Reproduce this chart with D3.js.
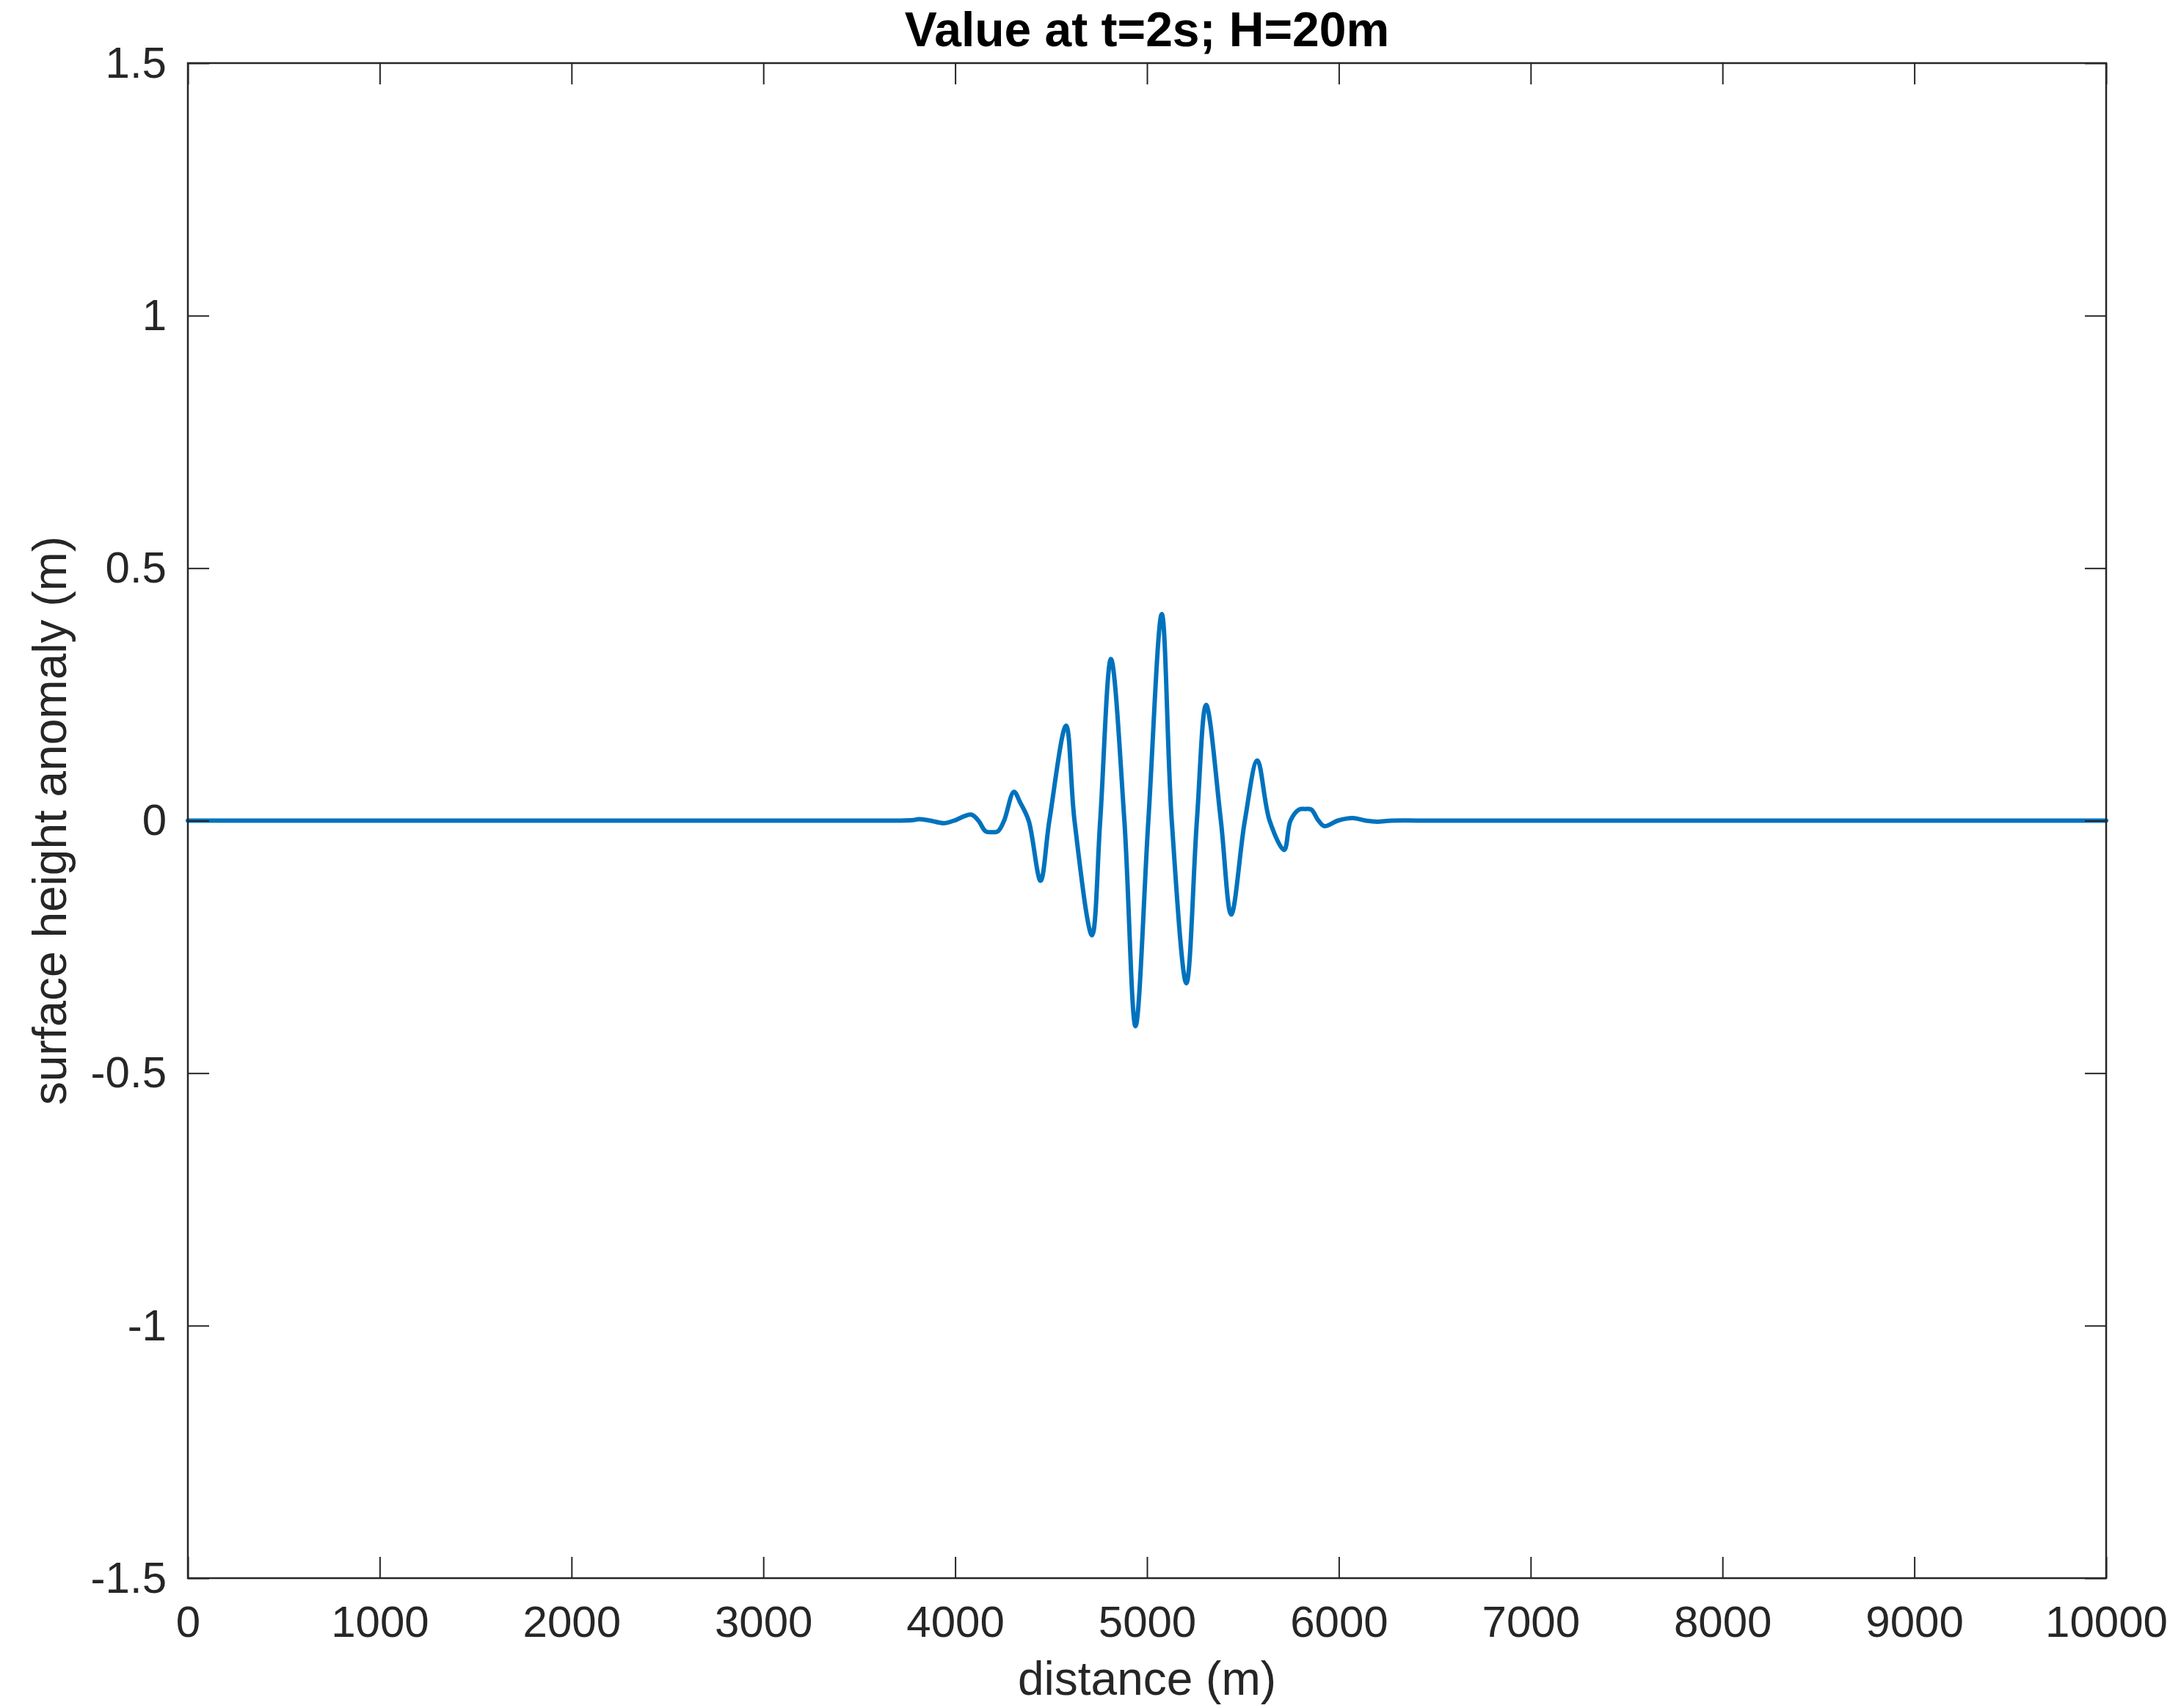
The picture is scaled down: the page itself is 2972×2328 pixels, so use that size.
<!DOCTYPE html>
<html>
<head>
<meta charset="utf-8">
<script src="https://cdn.jsdelivr.net/npm/d3@7"></script>
<style>
  html, body { margin: 0; padding: 0; background: #ffffff; }
  svg { display: block; }
  text { font-family: "Liberation Sans", Arial, Helvetica, sans-serif; }
</style>
</head>
<body>
<svg id="chart" width="2972" height="2328"></svg>
<script>
// Surface height anomaly along the channel at t = 2 s (H = 20 m)
const distance = [
  0, 1000, 2000, 3000, 3500, 3700, 3780, 3810, 3870, 3943, 3994, 4083, 4121,
  4158, 4190, 4223, 4255, 4306, 4340, 4383, 4445, 4491, 4578, 4622, 4713,
  4756, 4812, 4882, 4940, 5007, 5077, 5129, 5205, 5260, 5308, 5385, 5439,
  5510, 5575, 5639, 5715, 5748, 5793, 5825, 5856, 5894, 5925, 5995, 6072,
  6140, 6200, 6278, 6500, 7000, 8000, 9000, 10000
];
const height = [
  0, 0, 0, 0, 0, 0, 0.001, 0.003, 0.0, -0.005, 0, 0.012, 0,
  -0.021, -0.023, -0.021, 0, 0.057, 0.035, 0, -0.119, 0, 0.188, 0, -0.227,
  0, 0.320, 0, -0.407, 0, 0.409, 0, -0.322, 0, 0.229, 0, -0.186,
  0, 0.119, 0, -0.058, 0, 0.022, 0.023, 0.022, 0, -0.011, 0, 0.005,
  0, -0.002, 0, 0, 0, 0, 0, 0
];

const xTicks = [0, 1000, 2000, 3000, 4000, 5000, 6000, 7000, 8000, 9000, 10000];
const yTicks = [-1.5, -1, -0.5, 0, 0.5, 1, 1.5];
const yTickLabels = ["-1.5", "-1", "-0.5", "0", "0.5", "1", "1.5"];

const titleText = "Value at t=2s; H=20m";
const xLabelText = "distance (m)";
const yLabelText = "surface height anomaly (m)";

// Layout of the axes box
const plotLeft = 256, plotRight = 2870, plotTop = 86, plotBottom = 2151;
const axisColor = "#262626";
const tickLen = 29;

const svg = d3.select("#chart");
svg.append("rect").attr("width", 2972).attr("height", 2328).attr("fill", "#ffffff");

const x = d3.scaleLinear().domain([0, 10000]).range([plotLeft, plotRight]);
const y = d3.scaleLinear().domain([-1.5, 1.5]).range([plotBottom, plotTop]);

// Data line (drawn first so the axes box sits on top)
const pts = distance.map((d, i) => [d, height[i]]);
const line = d3.line()
  .x(d => x(d[0]))
  .y(d => y(d[1]))
  .curve(d3.curveCatmullRom.alpha(0.5));

svg.append("path")
  .datum(pts)
  .attr("d", line)
  .attr("fill", "none")
  .attr("stroke", "#0072BD")
  .attr("stroke-width", 6)
  .attr("stroke-linejoin", "round")
  .attr("stroke-linecap", "round");

function styleAxis(g) {
  g.select(".domain").remove();
  g.selectAll(".tick line").attr("stroke", axisColor).attr("stroke-width", 2);
  g.selectAll(".tick text")
    .attr("fill", axisColor)
    .style("font-size", "60px")
    .style("font-family", '"Liberation Sans", Arial, Helvetica, sans-serif');
}

// Bottom axis with labels, ticks pointing inward
svg.append("g")
  .attr("transform", `translate(0,${plotBottom})`)
  .call(d3.axisBottom(x).tickValues(xTicks).tickFormat(d3.format("d"))
    .tickSizeInner(-tickLen).tickSizeOuter(0).tickPadding(37))
  .call(styleAxis);

// Left axis with labels
svg.append("g")
  .attr("transform", `translate(${plotLeft},0)`)
  .call(d3.axisLeft(y).tickValues(yTicks)
    .tickFormat((d, i) => yTickLabels[i])
    .tickSizeInner(-tickLen).tickSizeOuter(0).tickPadding(29))
  .call(styleAxis);

// Mirrored ticks on top and right
svg.append("g")
  .attr("transform", `translate(0,${plotTop})`)
  .call(d3.axisTop(x).tickValues(xTicks).tickFormat("")
    .tickSizeInner(-tickLen).tickSizeOuter(0))
  .call(styleAxis);

svg.append("g")
  .attr("transform", `translate(${plotRight},0)`)
  .call(d3.axisRight(y).tickValues(yTicks).tickFormat("")
    .tickSizeInner(-tickLen).tickSizeOuter(0))
  .call(styleAxis);

// Axes box
svg.append("rect")
  .attr("x", plotLeft).attr("y", plotTop)
  .attr("width", plotRight - plotLeft).attr("height", plotBottom - plotTop)
  .attr("fill", "none")
  .attr("stroke", axisColor)
  .attr("stroke-width", 2.5);

// Title
svg.append("text")
  .attr("x", (plotLeft + plotRight) / 2)
  .attr("y", 63)
  .attr("text-anchor", "middle")
  .attr("fill", "#000000")
  .style("font-size", "66px")
  .style("font-weight", "bold")
  .text(titleText);

// X label
svg.append("text")
  .attr("x", (plotLeft + plotRight) / 2)
  .attr("y", 2310)
  .attr("text-anchor", "middle")
  .attr("fill", axisColor)
  .style("font-size", "64px")
  .text(xLabelText);

// Y label
svg.append("text")
  .attr("transform", `translate(90,${(plotTop + plotBottom) / 2}) rotate(-90)`)
  .attr("text-anchor", "middle")
  .attr("fill", axisColor)
  .style("font-size", "64px")
  .text(yLabelText);
</script>
</body>
</html>
